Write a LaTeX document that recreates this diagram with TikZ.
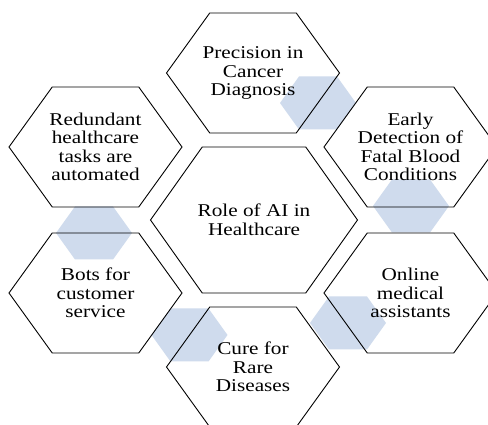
\documentclass[tikz,border=0pt]{standalone}
\usepackage{fontspec}
\usepackage{tikz}
\usepackage{xcolor}
\newfontfamily\hexfont[FakeStretch=1.18]{Liberation Serif}
\definecolor{hexblue}{RGB}{207,219,237}

\begin{document}
\begin{tikzpicture}[x=1pt,y=1pt,
  hexlabel/.style={align=center,font=\hexfont\fontsize{18}{18.5}\selectfont,inner sep=0pt},
  hexline/.style={color=black,line width=0.9pt}]
\useasboundingbox (0.000000,0.000000) rectangle (488.000000,425.000000);
\filldraw[color=white] (0.000000,0.000000) rectangle (488.000000,425.000000);
% Drawing small hexagons
% Hex 1: between precision and early
\fill[hexblue] (318.000000,322.000000) +(0:38.000000pt and 30.600000pt) -- +(60:38.000000pt and 30.600000pt) -- +(120:38.000000pt and 30.600000pt) -- +(180:38.000000pt and 30.600000pt) -- +(240:38.000000pt and 30.600000pt) -- +(300:38.000000pt and 30.600000pt) -- cycle;
% Hex 2: between redundant and bots
\fill[hexblue] (94.000000,192.000000) +(0:38.000000pt and 30.600000pt) -- +(60:38.000000pt and 30.600000pt) -- +(120:38.000000pt and 30.600000pt) -- +(180:38.000000pt and 30.600000pt) -- +(240:38.000000pt and 30.600000pt) -- +(300:38.000000pt and 30.600000pt) -- cycle;
% Hex 3: between early and online
\fill[hexblue] (411.000000,219.000000) +(0:38.000000pt and 30.600000pt) -- +(60:38.000000pt and 30.600000pt) -- +(120:38.000000pt and 30.600000pt) -- +(180:38.000000pt and 30.600000pt) -- +(240:38.000000pt and 30.600000pt) -- +(300:38.000000pt and 30.600000pt) -- cycle;
% Hex 4: between bots and cure
\fill[hexblue] (189.500000,90.000000) +(0:38.000000pt and 30.600000pt) -- +(60:38.000000pt and 30.600000pt) -- +(120:38.000000pt and 30.600000pt) -- +(180:38.000000pt and 30.600000pt) -- +(240:38.000000pt and 30.600000pt) -- +(300:38.000000pt and 30.600000pt) -- cycle;
% Hex 5: between cure and online
\fill[hexblue] (348.000000,102.000000) +(0:38.000000pt and 30.600000pt) -- +(60:38.000000pt and 30.600000pt) -- +(120:38.000000pt and 30.600000pt) -- +(180:38.000000pt and 30.600000pt) -- +(240:38.000000pt and 30.600000pt) -- +(300:38.000000pt and 30.600000pt) -- cycle;
% Done with small hexagons; drawing big hexagons
% Hex: precision
\draw[hexline] (253.000000,352.000000) +(0:86.500000pt and 69.300000pt) -- +(60:86.500000pt and 69.300000pt) -- +(120:86.500000pt and 69.300000pt) -- +(180:86.500000pt and 69.300000pt) -- +(240:86.500000pt and 69.300000pt) -- +(300:86.500000pt and 69.300000pt) -- cycle;
% Hex: redundant
\draw[hexline] (95.500000,278.000000) +(0:86.500000pt and 69.300000pt) -- +(60:86.500000pt and 69.300000pt) -- +(120:86.500000pt and 69.300000pt) -- +(180:86.500000pt and 69.300000pt) -- +(240:86.500000pt and 69.300000pt) -- +(300:86.500000pt and 69.300000pt) -- cycle;
% Hex: early
\draw[hexline] (410.500000,278.000000) +(0:86.500000pt and 69.300000pt) -- +(60:86.500000pt and 69.300000pt) -- +(120:86.500000pt and 69.300000pt) -- +(180:86.500000pt and 69.300000pt) -- +(240:86.500000pt and 69.300000pt) -- +(300:86.500000pt and 69.300000pt) -- cycle;
% Hex: role (centre)
\draw[hexline] (254.000000,205.000000) +(0:103.500000pt and 84.300000pt) -- +(60:103.500000pt and 84.300000pt) -- +(120:103.500000pt and 84.300000pt) -- +(180:103.500000pt and 84.300000pt) -- +(240:103.500000pt and 84.300000pt) -- +(300:103.500000pt and 84.300000pt) -- cycle;
% Hex: bots
\draw[hexline] (95.500000,132.000000) +(0:86.500000pt and 69.300000pt) -- +(60:86.500000pt and 69.300000pt) -- +(120:86.500000pt and 69.300000pt) -- +(180:86.500000pt and 69.300000pt) -- +(240:86.500000pt and 69.300000pt) -- +(300:86.500000pt and 69.300000pt) -- cycle;
% Hex: online
\draw[hexline] (410.500000,132.000000) +(0:86.500000pt and 69.300000pt) -- +(60:86.500000pt and 69.300000pt) -- +(120:86.500000pt and 69.300000pt) -- +(180:86.500000pt and 69.300000pt) -- +(240:86.500000pt and 69.300000pt) -- +(300:86.500000pt and 69.300000pt) -- cycle;
% Hex: cure
\draw[hexline] (253.000000,58.000000) +(0:86.500000pt and 69.300000pt) -- +(60:86.500000pt and 69.300000pt) -- +(120:86.500000pt and 69.300000pt) -- +(180:86.500000pt and 69.300000pt) -- +(240:86.500000pt and 69.300000pt) -- +(300:86.500000pt and 69.300000pt) -- cycle;
% Done with big hexagons; drawing labels
\node[hexlabel] (precision) at (253.000000,352.000000) {Precision in\\Cancer\\Diagnosis};
\node[hexlabel] (redundant) at (95.500000,278.000000) {Redundant\\healthcare\\tasks are\\automated};
\node[hexlabel] (early) at (410.500000,278.000000) {Early\\Detection of\\Fatal Blood\\Conditions};
\node[hexlabel] (role) at (254.000000,205.000000) {Role of AI in\\Healthcare};
\node[hexlabel] (bots) at (95.500000,132.000000) {Bots for\\customer\\service};
\node[hexlabel] (online) at (410.500000,132.000000) {Online\\medical\\assistants};
\node[hexlabel] (cure) at (253.000000,58.000000) {Cure for\\Rare\\Diseases};
% Done with labels
\end{tikzpicture}
\end{document}
